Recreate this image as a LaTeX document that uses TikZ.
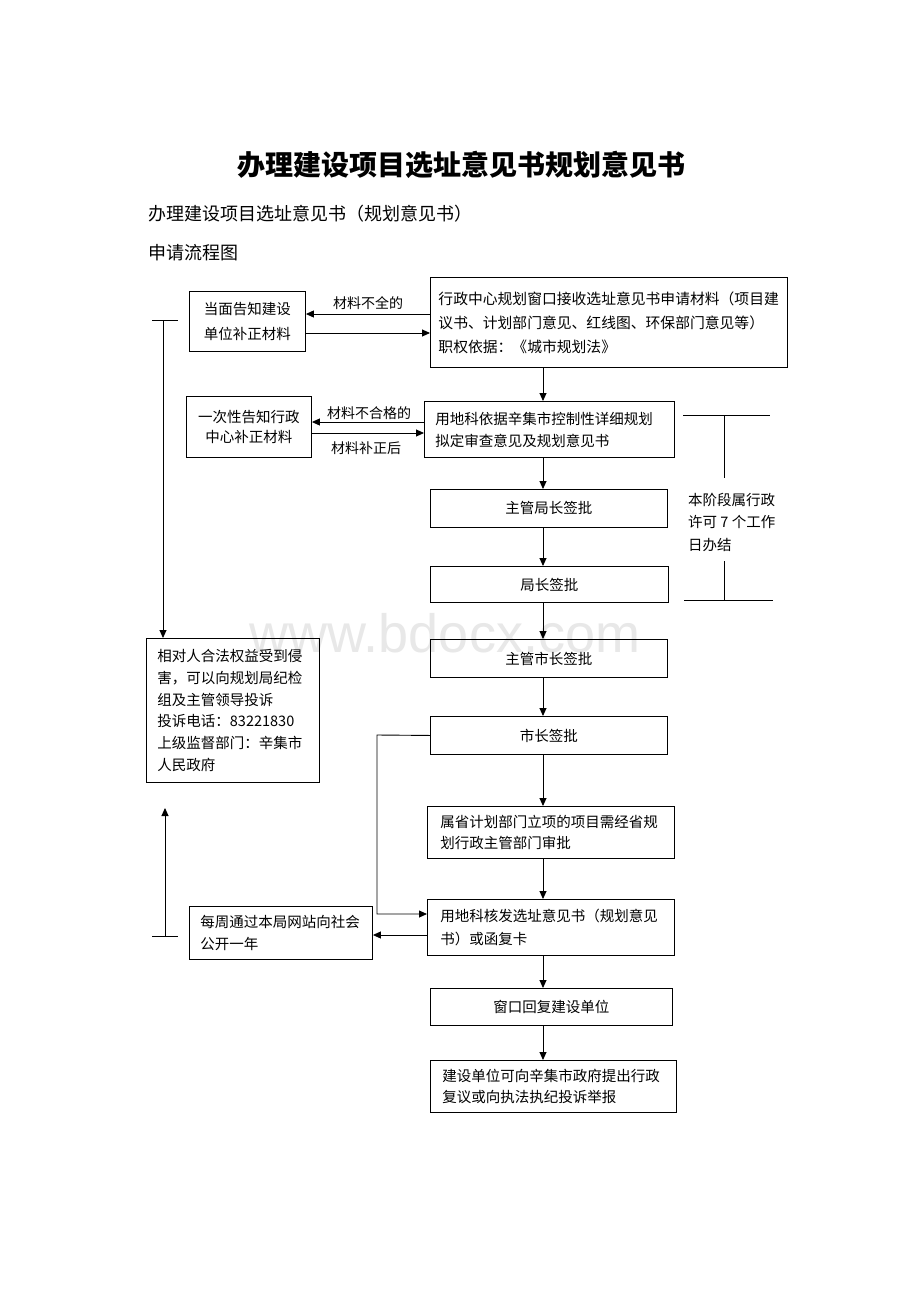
\documentclass[tikz,border=0pt]{standalone}
\usepackage{fontspec}
\setmainfont{Noto Sans CJK SC}
\newfontfamily\wmfont{Liberation Sans}
\usetikzlibrary{arrows.meta}
\tikzset{
  box/.style={draw, line width=0.9pt, inner sep=0pt, font=\fontsize{14.5}{22}\selectfont},
  lbox/.style={box, align=left},
  cbox/.style={box, align=center},
  arr/.style={line width=0.9pt, -{Triangle[length=8pt,width=7pt]}},
  ln/.style={line width=0.9pt},
  lbl/.style={inner sep=0pt, font=\fontsize{14}{16}\selectfont},
}
\begin{document}
\begin{tikzpicture}[x=1pt,y=-1pt]
\fill[white] (0,0) rectangle (920,1302);
\useasboundingbox (0,0) rectangle (920,1302);
% watermark
\node[text=black!9, font=\wmfont\fontsize{54}{60}\selectfont, inner sep=0pt] (wm) at (445,633) {www.bdocx.com};
% headings
\node[inner sep=0pt, font=\fontsize{28}{32}\selectfont\bfseries] (title) at (461,165) {办理建设项目选址意见书规划意见书};
\node[inner sep=0pt, anchor=west, font=\fontsize{18}{20}\selectfont] (sub1) at (148,214) {办理建设项目选址意见书（规划意见书）};
\node[inner sep=0pt, anchor=west, font=\fontsize{18}{20}\selectfont] (sub2) at (148,253) {申请流程图};
% boxes
\node[cbox, font=\fontsize{14.5}{25}\selectfont, anchor=north west, minimum width=116, minimum height=60] (A) at (189,291) {当面告知建设\\单位补正材料};
\node[lbox, font=\fontsize{14.8}{24}\selectfont, anchor=north west, minimum width=357, minimum height=90, text width=341] (B) at (430,277) {行政中心规划窗口接收选址意见书申请材料（项目建\\议书、计划部门意见、红线图、环保部门意见等）\\职权依据：《城市规划法》};
\node[cbox, font=\fontsize{14.5}{20}\selectfont, anchor=north west, minimum width=125, minimum height=61] (D) at (186,396) {一次性告知行政\\中心补正材料};
\node[lbox, anchor=north west, minimum width=250, minimum height=56, text width=228] (C) at (424,401) {用地科依据辛集市控制性详细规划\\拟定审查意见及规划意见书};
\node[cbox, anchor=north west, minimum width=237, minimum height=38] (E) at (430,489) {主管局长签批};
\node[cbox, anchor=north west, minimum width=238, minimum height=36] (F) at (430,566) {局长签批};
\node[cbox, anchor=north west, minimum width=237, minimum height=38] (H) at (430,639) {主管市长签批};
\node[cbox, anchor=north west, minimum width=237, minimum height=38] (I) at (430,716) {市长签批};
\node[lbox, font=\fontsize{14.5}{21}\selectfont, anchor=north west, minimum width=247, minimum height=52, text width=221] (J) at (427,806) {属省计划部门立项的项目需经省规\\划行政主管部门审批};
\node[lbox, font=\fontsize{14.5}{23}\selectfont, anchor=north west, minimum width=247, minimum height=56, text width=221] (K) at (427,899) {用地科核发选址意见书（规划意见\\书）或函复卡};
\node[lbox, anchor=north west, minimum width=183, minimum height=53, text width=161] (L) at (189,906) {每周通过本局网站向社会\\公开一年};
\node[cbox, anchor=north west, minimum width=242, minimum height=37] (M) at (430,988) {窗口回复建设单位};
\node[lbox, font=\fontsize{14.5}{21}\selectfont, anchor=north west, minimum width=246, minimum height=52, text width=222] (N) at (430,1060) {建设单位可向辛集市政府提出行政\\复议或向执法执纪投诉举报};
\node[lbox, font=\fontsize{14.5}{21.8}\selectfont, anchor=north west, minimum width=173, minimum height=144, text width=151] (G) at (146,638) {相对人合法权益受到侵\\害，可以向规划局纪检\\组及主管领导投诉\\投诉电话：83221830\\上级监督部门：辛集市\\人民政府};
% right note
\node[inner sep=0pt, anchor=west, align=left, font=\fontsize{14.5}{22.5}\selectfont] (R) at (688,522) {本阶段属行政\\许可 7 个工作\\日办结};
% labels
\node[lbl] (l1) at (368,303) {材料不全的};
\node[lbl] (l2) at (369,413) {材料不合格的};
\node[lbl] (l3) at (366,448) {材料补正后};
% side arrows
\draw[arr] (B.west |- 0,314) -- (A.east |- 0,314);
\draw[arr] (A.east |- 0,333) -- (B.west |- 0,333);
\draw[arr] (C.west |- 0,422) -- (D.east |- 0,422);
\draw[arr] (D.east |- 0,433) -- (C.west |- 0,433);
% main column
\coordinate (col) at (543,0);
\draw[arr] (B.south -| col) -- (C.north -| col);
\draw[arr] (C.south -| col) -- (E.north -| col);
\draw[arr] (E.south -| col) -- (F.north -| col);
\draw[arr] (F.south -| col) -- (H.north -| col);
\draw[arr] (H.south -| col) -- (I.north -| col);
\draw[arr] (I.south -| col) -- (J.north -| col);
\draw[arr] (J.south -| col) -- (K.north -| col);
\draw[arr] (K.south -| col) -- (M.north -| col);
\draw[arr] (M.south -| col) -- (N.north -| col);
% loop from I to K
\draw[arr] (I.west) -- (377,735) -- (377,914) -- (K.west |- 0,914);
\draw[arr] (K.west |- 0,935) -- (L.east |- 0,935);
% left bracket
\coordinate (t1) at (163,320);
\draw[ln] (152,320) -- (178,320);
\draw[arr] (t1) -- (G.north -| t1);
\coordinate (t2) at (165,936);
\coordinate (t3) at (165,808);
\draw[ln] (152,936) -- (178,936);
\draw[arr] (t2) -- (t3);
% right bracket
\draw[ln] (683,415) -- (770,415);
\draw[ln] (724,415) -- (724,478);
\draw[ln] (724,561) -- (724,600);
\draw[ln] (684,600) -- (773,600);
\end{tikzpicture}
\end{document}
